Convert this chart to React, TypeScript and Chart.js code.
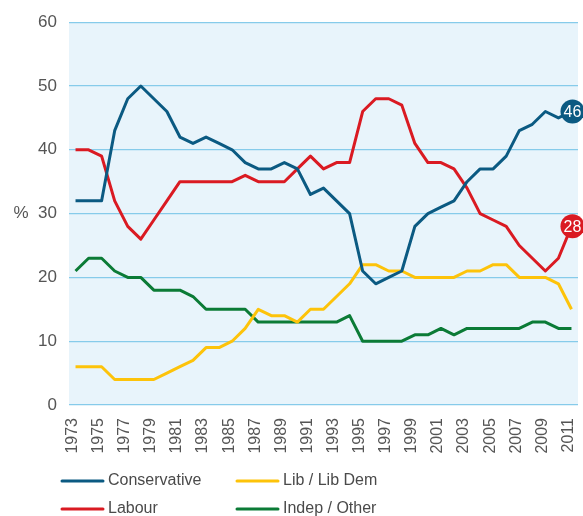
import { useEffect, useRef } from "react";
import { Chart, registerables } from "chart.js";

Chart.register(...registerables);

const years = [
  "1973", "1974", "1975", "1976", "1977", "1978", "1979",
  "1980", "1981", "1982", "1983", "1984", "1985", "1986", "1987", "1988", "1989",
  "1990", "1991", "1992", "1993", "1994", "1995", "1996", "1997", "1998", "1999",
  "2000", "2001", "2002", "2003", "2004", "2005", "2006", "2007", "2008", "2009",
  "2010", "2011",
];

const conservative = [
  32, 32, 32, 43, 48, 50, 48,
  46, 42, 41, 42, 41, 40, 38, 37, 37, 38,
  37, 33, 34, 32, 30, 21, 19, 20, 21, 28,
  30, 31, 32, 35, 37, 37, 39, 43, 44, 46,
  45, 46,
];

const labour = [
  40, 40, 39, 32, 28, 26, 29,
  32, 35, 35, 35, 35, 35, 36, 35, 35, 35,
  37, 39, 37, 38, 38, 46, 48, 48, 47, 41,
  38, 38, 37, 34, 30, 29, 28, 25, 23, 21,
  23, 28,
];

const libDem = [
  6, 6, 6, 4, 4, 4, 4,
  5, 6, 7, 9, 9, 10, 12, 15, 14, 14,
  13, 15, 15, 17, 19, 22, 22, 21, 21, 20,
  20, 20, 20, 21, 21, 22, 22, 20, 20, 20,
  19, 15,
];

const other = [
  21, 23, 23, 21, 20, 20, 18,
  18, 18, 17, 15, 15, 15, 15, 13, 13, 13,
  13, 13, 13, 13, 14, 10, 10, 10, 10, 11,
  11, 12, 11, 12, 12, 12, 12, 12, 13, 13,
  12, 12,
];

const seriesNames = ["Conservative", "Labour", "Lib / Lib Dem", "Indep / Other"];
const yTicks = [0, 10, 20, 30, 40, 50, 60];

const COLORS = ["#0b5a82", "#da1a22", "#fdc30a", "#0b7b36"];
const FONT = "'Liberation Sans', Arial, Helvetica, sans-serif";

const bgPlugin = {
  id: "areaBg",
  beforeDraw(chart: any) {
    const { ctx, chartArea } = chart;
    ctx.save();
    ctx.fillStyle = "#e8f4fb";
    ctx.fillRect(chartArea.left, chartArea.top, chartArea.right - chartArea.left, chartArea.bottom - chartArea.top);
    ctx.restore();
  },
};

const extrasPlugin = {
  id: "extras",
  afterDatasetsDraw(chart: any) {
    const { ctx, chartArea } = chart;
    ctx.save();
    // "%" axis title
    ctx.fillStyle = "#555";
    ctx.font = `17px ${FONT}`;
    ctx.textAlign = "center";
    ctx.textBaseline = "middle";
    ctx.fillText("%", 21, (chartArea.top + chartArea.bottom) / 2);

    // end value badges
    [0, 1].forEach((i) => {
      const meta = chart.getDatasetMeta(i);
      const pt = meta.data[meta.data.length - 1];
      const vals = chart.data.datasets[i].data;
      ctx.beginPath();
      ctx.arc(pt.x + 1, pt.y, 12, 0, Math.PI * 2);
      ctx.fillStyle = COLORS[i];
      ctx.fill();
      ctx.fillStyle = "#fff";
      ctx.font = `16px ${FONT}`;
      ctx.textAlign = "center";
      ctx.textBaseline = "middle";
      ctx.fillText(String(vals[vals.length - 1]), pt.x + 1, pt.y + 1);
    });

    // legend (2 columns)
    const order = [0, 2, 1, 3];
    order.forEach((di, k) => {
      const col = k % 2;
      const row = Math.floor(k / 2);
      const x = 62 + col * 175;
      const y = 481 + row * 28;
      ctx.beginPath();
      ctx.strokeStyle = COLORS[di];
      ctx.lineWidth = 3;
      ctx.lineCap = "round";
      ctx.moveTo(x, y);
      ctx.lineTo(x + 41, y);
      ctx.stroke();
      ctx.fillStyle = "#4a4a4a";
      ctx.font = `16px ${FONT}`;
      ctx.textAlign = "left";
      ctx.textBaseline = "middle";
      ctx.fillText(seriesNames[di], x + 46, y);
    });
    ctx.restore();
  },
};

export default function App() {
  const ref = useRef<HTMLCanvasElement>(null);

  useEffect(() => {
    if (!ref.current) return;
    const seriesData = [conservative, labour, libDem, other];
    const chart = new Chart(ref.current, {
      type: "line",
      data: {
        labels: years,
        datasets: seriesData.map((d, i) => ({
          label: seriesNames[i],
          data: d,
          borderColor: COLORS[i],
          backgroundColor: COLORS[i],
          borderWidth: 3,
          pointRadius: 0,
          tension: 0,
          borderJoinStyle: "round" as const,
          fill: false,
        })),
      },
      options: {
        responsive: false,
        animation: false,
        devicePixelRatio: 1,
        layout: { padding: { left: 0, right: 5, top: 22, bottom: 0 } },
        plugins: {
          legend: { display: false },
          tooltip: { enabled: false },
        },
        scales: {
          x: {
            type: "category",
            offset: true,
            grid: { display: false },
            border: { display: false },
            ticks: {
              autoSkip: false,
              maxRotation: 90,
              minRotation: 90,
              padding: 5,
              labelOffset: -3,
              color: "#555",
              font: { family: FONT, size: 16 },
              callback: (_v: any, i: number) => (i % 2 === 0 ? years[i] : ""),
            },
            afterFit: (scale: any) => {
              scale.height = 111;
              scale.paddingLeft = 0;
              scale.paddingRight = 0;
            },
          },
          y: {
            min: 0,
            max: 60,
            afterBuildTicks: (scale: any) => {
              scale.ticks = yTicks.map((v) => ({ value: v }));
            },
            grid: { color: "#86cbea", lineWidth: 1.2, drawTicks: false },
            border: { display: false },
            ticks: {
              padding: 12,
              color: "#555",
              font: { family: FONT, size: 17 },
            },
            afterFit: (scale: any) => {
              scale.width = 69;
            },
          },
        },
      },
      plugins: [bgPlugin, extrasPlugin],
    });
    return () => chart.destroy();
  }, []);

  return (
    <div style={{ position: "fixed", left: 0, top: 0, width: 583, height: 516, background: "#fff" }}>
      <canvas ref={ref} width={583} height={516} style={{ display: "block" }} />
    </div>
  );
}
